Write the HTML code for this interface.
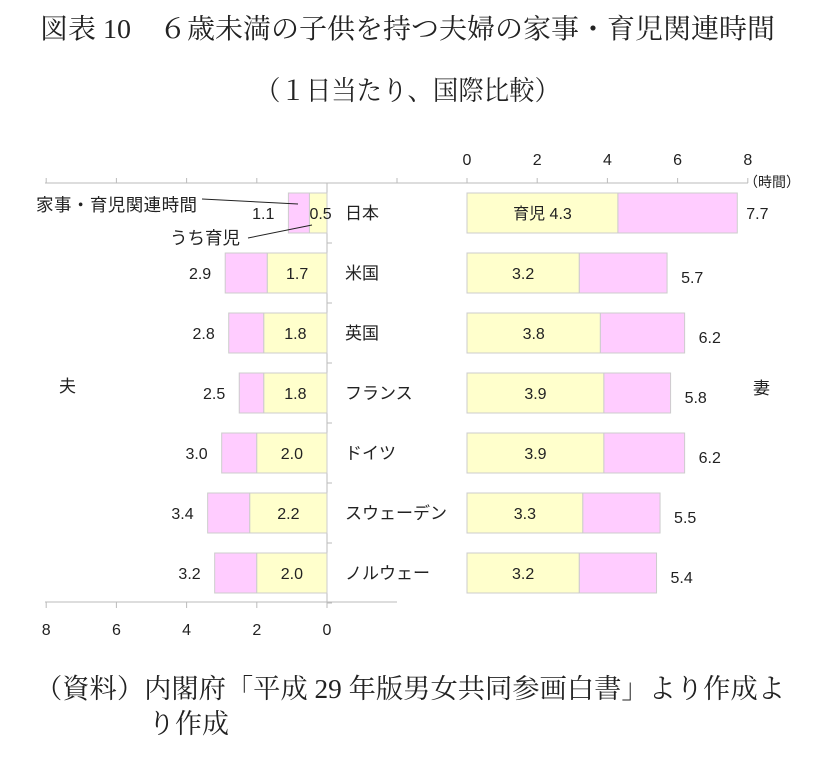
<!DOCTYPE html>
<html><head><meta charset="utf-8"><style>
body{margin:0;background:#fff;}
svg text{font-family:"Liberation Sans","Noto Sans CJK JP",sans-serif;}
.ser{font-family:"Liberation Serif","Noto Serif CJK SC",serif !important;}
</style></head><body>
<svg id="c" width="840" height="770" xmlns="http://www.w3.org/2000/svg">
<text class="ser" x="40" y="38" font-size="27.5" textLength="735" lengthAdjust="spacingAndGlyphs" fill="#222">図表 10　６歳未満の子供を持つ夫婦の家事・育児関連時間</text>
<text class="ser" x="255" y="100" font-size="27" textLength="305" lengthAdjust="spacingAndGlyphs" fill="#222">（１日当たり、国際比較）</text>
<text class="ser" x="35" y="698" font-size="27" textLength="750" lengthAdjust="spacingAndGlyphs" fill="#222">（資料）内閣府「平成 29 年版男女共同参画白書」より作成よ</text>
<text class="ser" x="148" y="733" font-size="27" fill="#222">り作成</text>
<g id="plot"></g>
</svg>
<script>
const countries=["日本","米国","英国","フランス","ドイツ","スウェーデン","ノルウェー"];
const husbandTotal=[1.1,2.9,2.8,2.5,3.0,3.4,3.2];
const husbandChild=[0.5,1.7,1.8,1.8,2.0,2.2,2.0];
const wifeTotal=[7.7,5.7,6.2,5.8,6.2,5.5,5.4];
const wifeChild=[4.3,3.2,3.8,3.9,3.9,3.3,3.2];
const ticks=[0,2,4,6,8];
const NS="http://www.w3.org/2000/svg";
const g=document.getElementById('plot');
const S=35.1;
const xL=v=>327-v*S, xR=v=>467+v*S;
const yRow=i=>193+i*60, BH=40;
function el(t,a,txt){const e=document.createElementNS(NS,t);for(const k in a)e.setAttribute(k,a[k]);if(txt!==undefined)e.textContent=txt;g.appendChild(e);return e;}
let e=el('line',{x1:45,y1:183,x2:748,y2:183,stroke:'#bbb'});


e=el('line',{x1:45,y1:602,x2:397,y2:602,stroke:'#bbb'});


e=el('line',{x1:327,y1:183,x2:327,y2:602,stroke:'#bbb'});


for(let i=0;i<=countries.length;i++){e=el('line',{x1:327,y1:183+i*60,x2:332,y2:183+i*60,stroke:'#bbb'});

}
ticks.forEach(t=>{
 e=el('line',{x1:xL(t),y1:602,x2:xL(t),y2:608,stroke:'#bbb'});
 
 
 e=el('text',{x:xL(t),y:635,'font-size':16,'text-anchor':'middle',fill:'#222'},t);
 
 
 e=el('line',{x1:xR(t),y1:178,x2:xR(t),y2:183,stroke:'#bbb'});
 
 
 e=el('text',{x:xR(t),y:165,'font-size':16,'text-anchor':'middle',fill:'#222'},t);
 
 
 if(t>0){e=el('line',{x1:xL(t),y1:178,x2:xL(t),y2:183,stroke:'#bbb'});
 
 }
});
e=el('line',{x1:397,y1:178,x2:397,y2:183,stroke:'#bbb'});


e=el('text',{x:744,y:187,'font-size':14,fill:'#222'},'（時間）');


e=el('text',{x:59,y:392,'font-size':17,fill:'#222'},'夫');


e=el('text',{x:753,y:394,'font-size':17,fill:'#222'},'妻');


countries.forEach((c,i)=>{
 const y=yRow(i), cy=y+BH/2+6;
 e=el('rect',{x:xL(husbandTotal[i]),y:y,width:(husbandTotal[i]-husbandChild[i])*S,height:BH,fill:'#ffccff',stroke:'#ccc'});
 
 
 e=el('rect',{x:xL(husbandChild[i]),y:y,width:husbandChild[i]*S,height:BH,fill:'#ffffcc',stroke:'#ccc'});
 
 
 const hc=i===0?xL(husbandChild[i])+0:(xL(husbandChild[i])+327)/2;
 e=el('text',{x:hc,y:cy,'font-size':16,'text-anchor':i===0?'start':'middle',fill:'#222'},husbandChild[i].toFixed(1));
 
 
 e=el('text',{x:xL(husbandTotal[i])-(i===0?14:14),y:cy,'font-size':16,'text-anchor':'end',fill:'#222'},husbandTotal[i].toFixed(1));
 
 
 e=el('text',{x:345,y:cy,'font-size':17,fill:'#222'},c);
 
 
 e=el('rect',{x:xR(0),y:y,width:wifeChild[i]*S,height:BH,fill:'#ffffcc',stroke:'#ccc'});
 
 
 e=el('rect',{x:xR(wifeChild[i]),y:y,width:(wifeTotal[i]-wifeChild[i])*S,height:BH,fill:'#ffccff',stroke:'#ccc'});
 
 
 e=el('text',{x:(xR(0)+xR(wifeChild[i]))/2,y:cy,'font-size':16,'text-anchor':'middle',fill:'#222'},(i===0?'育児  ':'')+wifeChild[i].toFixed(1));
 
 
 e=el('text',{x:xR(wifeTotal[i])+(i===0?9:14),y:cy+(i===0?0:4),'font-size':16,fill:'#222'},wifeTotal[i].toFixed(1));
 
 
});
e=el('text',{x:36,y:211,'font-size':17.5,textLength:161,fill:'#222'},'家事・育児関連時間');


e=el('line',{x1:202,y1:199,x2:298,y2:204,stroke:'#222'});


e=el('text',{x:170,y:244,'font-size':17.5,fill:'#222'},'うち育児');


e=el('line',{x1:248,y1:238,x2:312,y2:225,stroke:'#222'});


</script>
</body></html>
